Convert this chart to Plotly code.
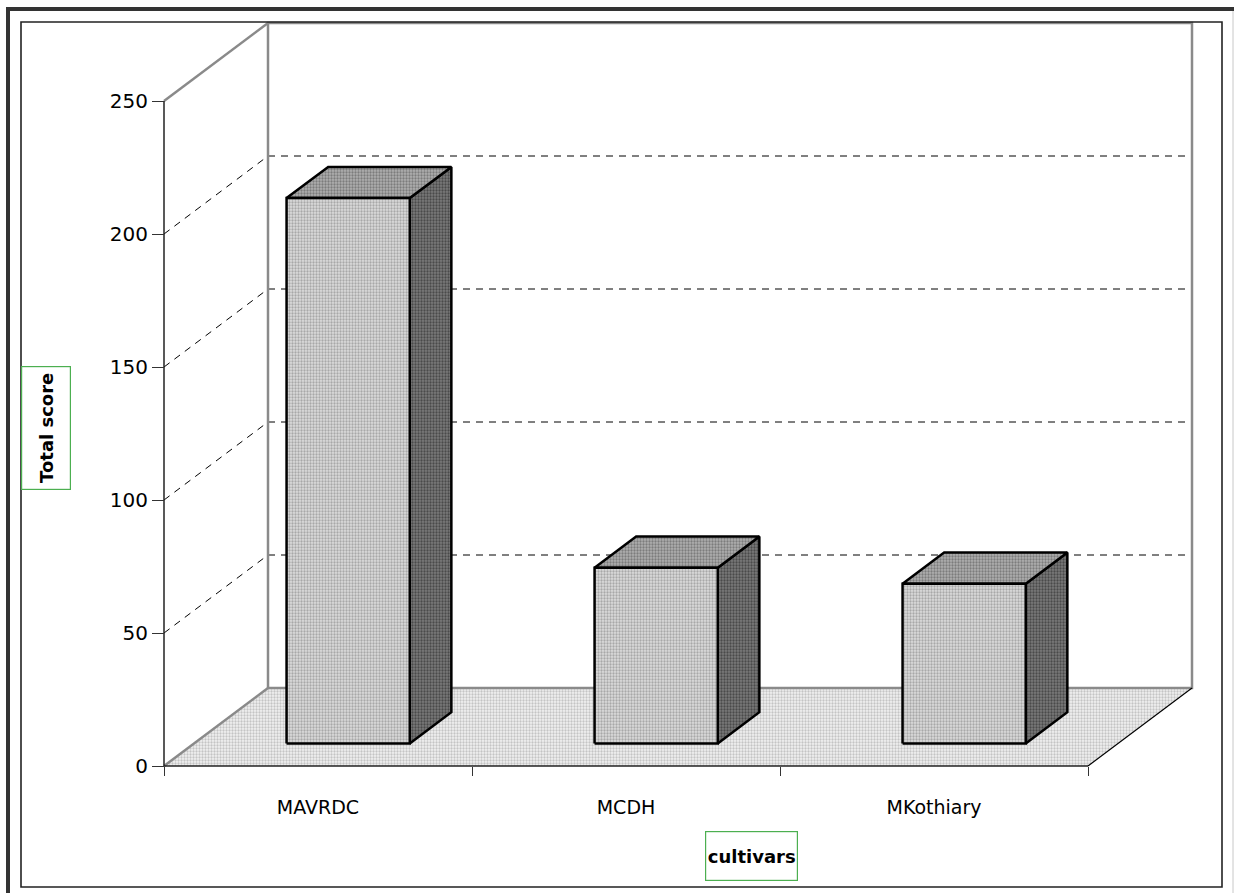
import plotly.graph_objects as go

# ---- data ----
categories = ["MAVRDC", "MCDH", "MKothiary"]
total_score = [205, 66, 60]
y_ticks = [0, 50, 100, 150, 200, 250]
y_top = 250

# ---- geometry of the pseudo-3D frame (pixels) ----
FIG_W, FIG_H = 1234, 895
ORIGIN_X_PX, ORIGIN_Y_PX = 164, 766     # front-left-bottom corner of the floor
SLOT_PX = 308                           # width of one category slot
UNIT_PX = 665 / 250                     # pixels per score unit
DEPTH_X_PX, DEPTH_Y_PX = 104, 78        # oblique offset from front to back plane

DX = DEPTH_X_PX / SLOT_PX               # depth offset in x data units
DY = DEPTH_Y_PX / UNIT_PX               # depth offset in y data units
N = len(categories)

BAR_X = (0.30, 0.70)                    # bar extent within its slot
BAR_D = (0.29, 0.69)                    # bar extent in depth (0 front, 1 back)

FONT = "DejaVu Sans"


def proj(x, v, d):
    """Oblique projection of (slot position, value, depth) into axis units."""
    return x + d * DX, v + d * DY


def poly(points):
    xs, ys = zip(*[proj(*p) for p in points])
    return list(xs) + [xs[0]], list(ys) + [ys[0]]


def dots(fg, bg):
    """Fine halftone fill pattern."""
    return dict(shape=".", fgcolor=fg, bgcolor=bg, size=3, solidity=0.45,
                fillmode="replace")


fig = go.Figure()


def add_line(points, color, width, dash=None):
    xs, ys = zip(*[proj(*p) for p in points])
    fig.add_trace(go.Scatter(x=list(xs), y=list(ys), mode="lines",
                             line=dict(color=color, width=width, dash=dash),
                             hoverinfo="skip", showlegend=False))


def add_face(points, fg, bg, line_w=2.5):
    xs, ys = poly(points)
    fig.add_trace(go.Scatter(x=xs, y=ys, mode="lines", fill="toself",
                             fillcolor=bg, fillpattern=dots(fg, bg),
                             line=dict(color="black", width=line_w),
                             hoverinfo="skip", showlegend=False))


# floor
xs, ys = poly([(0, 0, 0), (N, 0, 0), (N, 0, 1), (0, 0, 1)])
fig.add_trace(go.Scatter(x=xs, y=ys, mode="lines", fill="toself",
                         fillcolor="#f2f2f2", fillpattern=dots("#c4c4c4", "#f2f2f2"),
                         line=dict(width=0),
                         hoverinfo="skip", showlegend=False))

# dashed gridlines on side and back walls
for v in y_ticks[1:-1]:
    add_line([(0, v, 0), (0, v, 1)], "black", 1, dash="7px,6px")
    add_line([(0, v, 1), (N, v, 1)], "black", 1, dash="7px,6px")

# wall edges
WALL = "#8a8a8a"
add_line([(0, 0, 0), (0, 0, 1)], WALL, 2.5)
add_line([(0, y_top, 0), (0, y_top, 1)], WALL, 2.5)
add_line([(0, 0, 1), (0, y_top, 1), (N, y_top, 1), (N, 0, 1), (0, 0, 1)], WALL, 2.5)
add_line([(N, 0, 0), (N, 0, 1)], "black", 1.2)

# axis lines on the front plane
add_line([(0, 0, 0), (0, y_top, 0)], "#222222", 1.5)
add_line([(0, 0, 0), (N, 0, 0)], "#222222", 1.5)

# bars
x0, x1 = BAR_X
d0, d1 = BAR_D
for i, v in enumerate(total_score):
    a, b = i + x0, i + x1
    add_face([(b, 0, d0), (b, v, d0), (b, v, d1), (b, 0, d1)], "#4a4a4a", "#7a7a7a")
    add_face([(a, v, d0), (b, v, d0), (b, v, d1), (a, v, d1)], "#7c7c7c", "#b0b0b0")
    add_face([(a, 0, d0), (b, 0, d0), (b, v, d0), (a, v, d0)], "#a8a8a8", "#dcdcdc")

# axis ranges chosen so that the whole figure is the plotting area
x_range = [-ORIGIN_X_PX / SLOT_PX, (FIG_W - ORIGIN_X_PX) / SLOT_PX]
y_range = [(ORIGIN_Y_PX - FIG_H) / UNIT_PX, ORIGIN_Y_PX / UNIT_PX]

fig.update_layout(
    width=FIG_W, height=FIG_H, autosize=False,
    margin=dict(l=0, r=0, t=0, b=0),
    paper_bgcolor="white", plot_bgcolor="white",
    font=dict(family=FONT, color="black"),
    xaxis=dict(range=x_range, anchor="free",
               position=(FIG_H - ORIGIN_Y_PX) / FIG_H,
               showgrid=False, zeroline=False, showline=False,
               tickmode="array", tickvals=[i + 0.5 for i in range(N)],
               ticktext=categories, ticks="", ticklabelstandoff=28,
               tickfont=dict(size=19, family=FONT),
               minor=dict(tickmode="array", tickvals=list(range(N + 1)),
                          ticks="outside", ticklen=9, tickwidth=1.2,
                          tickcolor="#333333", showgrid=False),
               fixedrange=True),
    yaxis=dict(range=y_range, anchor="free",
               position=ORIGIN_X_PX / FIG_W,
               showgrid=False, zeroline=False, showline=False,
               tickmode="array", tickvals=y_ticks,
               ticktext=[str(t) for t in y_ticks],
               ticks="outside", ticklen=12, tickwidth=1.2, tickcolor="#333333",
               tickfont=dict(size=20, family=FONT),
               fixedrange=True),
)

# axis titles in green boxes
fig.add_annotation(text="<b>Total score</b>", xref="paper", yref="paper",
                   x=46 / FIG_W, y=1 - 428 / FIG_H, xanchor="center", yanchor="middle",
                   showarrow=False, textangle=-90, width=122, height=48, borderpad=0,
                   bordercolor="#4caf50", borderwidth=1.2,
                   font=dict(size=18, family=FONT))
fig.add_annotation(text="<b>cultivars</b>", xref="paper", yref="paper",
                   x=751 / FIG_W, y=1 - 856 / FIG_H, xanchor="center", yanchor="middle",
                   showarrow=False, width=91, height=48, borderpad=0,
                   bordercolor="#4caf50", borderwidth=1.2,
                   font=dict(size=18, family=FONT))

# chart frames
fig.add_shape(type="rect", xref="paper", yref="paper",
              x0=21 / FIG_W, x1=1222 / FIG_W, y0=1 - 887 / FIG_H, y1=1 - 22 / FIG_H,
              line=dict(color="#222222", width=1.6))
fig.add_shape(type="line", xref="paper", yref="paper",
              x0=8 / FIG_W, x1=1, y0=1 - 9 / FIG_H, y1=1 - 9 / FIG_H,
              line=dict(color="#333333", width=4))
fig.add_shape(type="line", xref="paper", yref="paper",
              x0=8 / FIG_W, x1=8 / FIG_W, y0=1 - 893 / FIG_H, y1=1 - 7 / FIG_H,
              line=dict(color="#333333", width=4))
fig.add_shape(type="line", xref="paper", yref="paper",
              x0=1233 / FIG_W, x1=1233 / FIG_W, y0=1 - 893 / FIG_H, y1=1 - 11 / FIG_H,
              line=dict(color="#c8c8c8", width=1))

fig.write_html("out.html", config={"displayModeBar": False})
